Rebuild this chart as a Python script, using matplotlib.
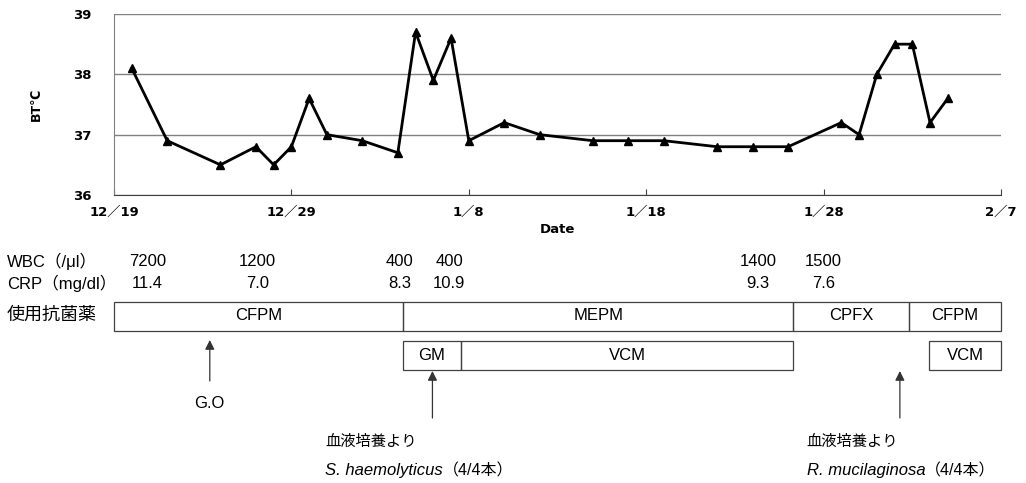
import matplotlib
matplotlib.use('Agg')
import matplotlib.pyplot as plt
import matplotlib.transforms as mtransforms
from matplotlib.patches import Rectangle

# body temperature, day 0 = 12/19
temp_days = [1, 3, 6, 8, 9, 10, 11, 12, 14, 16, 17, 18, 19, 20, 22, 24, 27, 29, 31,
             34, 36, 38, 41, 42, 43, 44, 45, 46, 47]
temp_vals = [38.1, 36.9, 36.5, 36.8, 36.5, 36.8, 37.6, 37.0, 36.9, 36.7, 38.7, 37.9, 38.6,
             36.9, 37.2, 37.0, 36.9, 36.9, 36.9, 36.8, 36.8, 36.8, 37.2, 37.0, 38.0, 38.5,
             38.5, 37.2, 37.6]
date_ticks = [0, 10, 20, 30, 40, 50]
date_labels = ['12／19', '12／29', '1／8', '1／18', '1／28', '2／7']

# lab values
lab_days = [1.9, 8.1, 16.1, 18.9, 36.3, 40.0]
wbc = ['7200', '1200', '400', '400', '1400', '1500']
crp = ['11.4', '7.0', '8.3', '10.9', '9.3', '7.6']

# antibiotics
drug1 = ['CFPM', 'MEPM', 'CPFX', 'CFPM']
drug1_start = [0, 16.3, 38.3, 44.8]
drug1_end = [16.3, 38.3, 44.8, 50]
drug2 = ['GM', 'VCM', 'VCM']
drug2_start = [16.3, 19.55, 45.95]
drug2_end = [19.55, 38.3, 50]

# events
go_day = 5.4
culture_days = [17.95, 44.3]
culture_text_days = [11.9, 39.05]
species = ['S. haemolyticus', 'R. mucilaginosa']

jp = ['Liberation Sans', 'Noto Sans CJK JP']
tk = ['DejaVu Sans', 'Noto Sans CJK JP']
fs = 12

fig = plt.figure(figsize=(10.26, 4.83), dpi=100)
W, H = 1026, 483
ax = fig.add_axes([114 / W, 1 - 195 / H, 887 / W, 181 / H])

ax.plot(temp_days, temp_vals, color='black', lw=2.0, marker='^', markersize=6,
        clip_on=False, zorder=3)
ax.set_xlim(0, 50)
ax.set_ylim(36, 39)
ax.set_yticks([36, 37, 38, 39])
ax.set_xticks(date_ticks)
ax.set_xticklabels(date_labels, family=tk, fontweight='bold', fontsize=9.5)
for lab in ax.get_yticklabels():
    lab.set_family(tk)
    lab.set_fontweight('bold')
    lab.set_fontsize(9.5)
ax.grid(True, axis='y', color='#808080', lw=1)
ax.spines['top'].set_visible(False)
ax.spines['right'].set_visible(False)
ax.spines['left'].set_color('#808080')
ax.spines['bottom'].set_color('#404040')
ax.tick_params(axis='x', direction='in', length=4, color='#404040', pad=8)
ax.tick_params(axis='y', length=0, pad=16)
ax.set_xlabel('Date', family=tk, fontweight='bold', fontsize=9.5, labelpad=3)
ax.set_ylabel('BT℃', family=tk, fontweight='bold', fontsize=9, labelpad=22)

# lower panel, y in pixel rows from the top
ax2 = fig.add_axes([114 / W, 0, 887 / W, 1])
ax2.set_xlim(0, 50)
ax2.set_ylim(H, 0)
ax2.axis('off')
ax2.patch.set_visible(False)

left = mtransforms.blended_transform_factory(fig.transFigure, ax2.transData)
ax2.text(7 / W, 261, 'WBC（/μl）', transform=left, family=jp, fontsize=fs, va='center')
ax2.text(7 / W, 283, 'CRP（mg/dl）', transform=left, family=jp, fontsize=fs, va='center')
ax2.text(7 / W, 315, '使用抗菌薬', transform=left, family=jp, fontsize=13, va='center')

for d, w, c in zip(lab_days, wbc, crp):
    ax2.text(d, 261, w, family=jp, fontsize=fs, ha='center', va='center')
    ax2.text(d, 283, c, family=jp, fontsize=fs, ha='center', va='center')

for name, s, e in zip(drug1, drug1_start, drug1_end):
    ax2.add_patch(Rectangle((s, 302), e - s, 29, fill=False, ec='#404040', lw=0.9,
                            clip_on=False))
    ax2.text((s + e) / 2, 316, name, family=jp, fontsize=fs, ha='center', va='center')
for name, s, e in zip(drug2, drug2_start, drug2_end):
    ax2.add_patch(Rectangle((s, 341), e - s, 29, fill=False, ec='#404040', lw=0.9,
                            clip_on=False))
    ax2.text((s + e) / 2, 355, name, family=jp, fontsize=fs, ha='center', va='center')

arrow = dict(arrowstyle='-|>', color='#333333', lw=0.9, mutation_scale=14,
             shrinkA=0, shrinkB=0)
ax2.annotate('', xy=(go_day, 340), xytext=(go_day, 381), arrowprops=arrow)
ax2.text(go_day, 403, 'G.O', family=jp, fontsize=fs, ha='center', va='center')

for d, td, sp in zip(culture_days, culture_text_days, species):
    ax2.annotate('', xy=(d, 371), xytext=(d, 418), arrowprops=arrow)
    ax2.text(td, 442, '血液培養より', family=jp, fontsize=11, va='center')
    t = ax2.text(td, 471, sp, family=jp, fontsize=fs, style='italic', va='center')
    ax2.annotate('（4/4本）', xy=(1, 0.5), xycoords=t, family=jp, fontsize=11.5,
                 va='center')

fig.savefig('out.png', dpi=100)
